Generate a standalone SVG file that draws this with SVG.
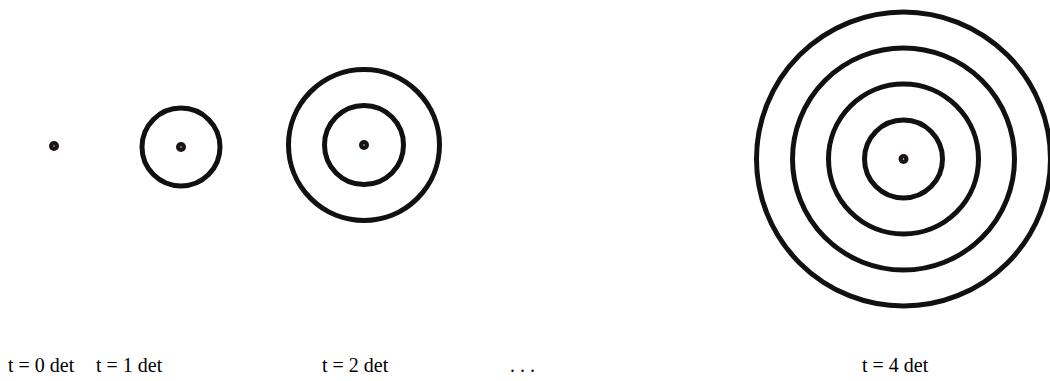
<svg xmlns="http://www.w3.org/2000/svg" width="1050" height="381" viewBox="0 0 1050 381">
<style>
.ring{fill:none;stroke:#111;stroke-width:5}
.dot{fill:#1a1412}
.hole{fill:#fff}
.lbl{font-family:"Liberation Serif","Times New Roman",serif;font-size:20px;fill:#000}
</style>
<rect width="1050" height="381" fill="#fff"/>
<g id="t0">
<circle class="dot" cx="54" cy="146" r="5"/><circle class="hole" cx="54" cy="146" r="0.7"/>
</g>
<g id="t1">
<circle class="ring" cx="181" cy="147" r="39"/>
<circle class="dot" cx="181" cy="147" r="5"/><circle class="hole" cx="181" cy="147" r="0.7"/>
</g>
<g id="t2">
<circle class="ring" cx="364" cy="145" r="39.5"/>
<circle class="ring" cx="364" cy="145" r="75.5"/>
<circle class="dot" cx="364" cy="145" r="5"/><circle class="hole" cx="364" cy="145" r="0.7"/>
</g>
<g id="t4">
<circle class="ring" cx="903.5" cy="159" r="39"/>
<circle class="ring" cx="903.5" cy="159" r="75"/>
<circle class="ring" cx="903.5" cy="159" r="111"/>
<circle class="ring" cx="903.5" cy="159" r="147"/>
<circle class="dot" cx="903.5" cy="159" r="5"/><circle class="hole" cx="903.5" cy="159" r="0.7"/>
</g>
<g id="labels">
<text class="lbl" x="8" y="372">t = 0 det</text>
<text class="lbl" x="96" y="372">t = 1 det</text>
<text class="lbl" x="322" y="372">t = 2 det</text>
<text class="lbl" x="510" y="372">. . .</text>
<text class="lbl" x="862" y="372">t = 4 det</text>
</g>
</svg>
